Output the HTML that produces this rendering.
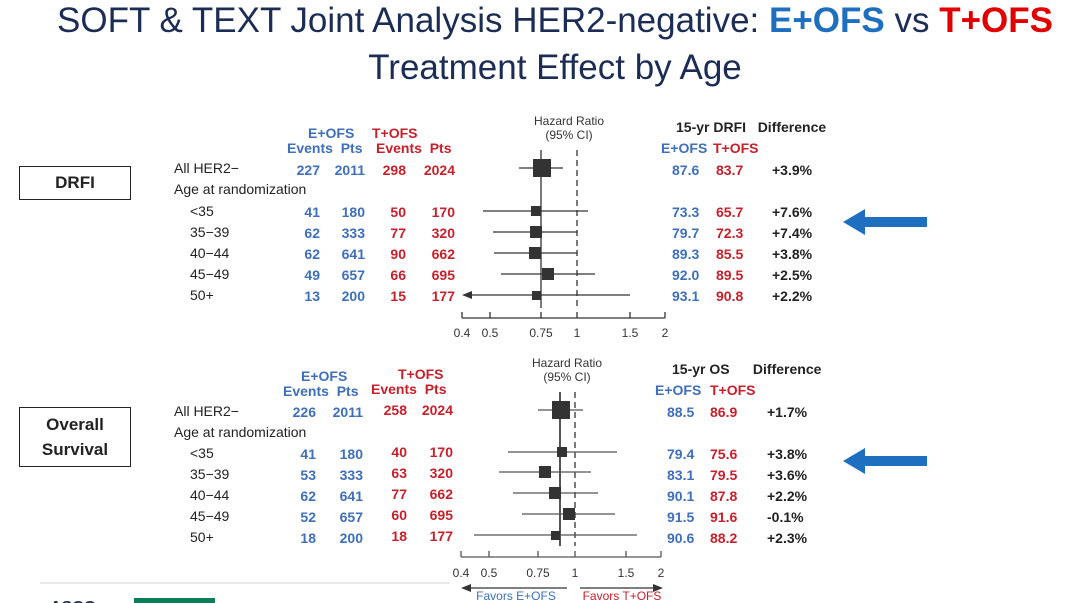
<!DOCTYPE html>
<html><head><meta charset="utf-8"><style>
body{margin:0;width:1080px;height:603px;background:#fff;position:relative;overflow:hidden;font-family:"Liberation Sans",sans-serif}
.t{position:absolute;white-space:nowrap}
.b{color:#3d6fba;font-weight:bold;font-size:14px}
.r{color:#c8202a;font-weight:bold;font-size:14px}
.k{color:#222;font-size:14px}
.kb{color:#222;font-size:14px;font-weight:bold}
.box{position:absolute;border:1.5px solid #222;font-weight:bold;font-size:17px;color:#222;text-align:center;box-sizing:border-box}
</style></head><body>
<div class="t" style="left:0;width:1110px;text-align:center;top:0;font-size:35px;color:#1c2d55;line-height:42px">SOFT &amp; TEXT Joint Analysis HER2-negative: <b style="color:#1f6fc0">E+OFS</b> vs <b style="color:#e00000">T+OFS</b></div>
<div class="t" style="left:0;width:1110px;text-align:center;top:47px;font-size:35px;color:#1c2d55;line-height:42px">Treatment Effect by Age</div>

<div class="box" style="left:19px;top:166px;width:112px;height:34px;line-height:31px">DRFI</div>
<div class="box" style="left:19px;top:407px;width:112px;height:60px;line-height:25px;padding-top:4px">Overall<br>Survival</div>

<div class="t b" style="left:308px;top:125px">E+OFS</div>
<div class="t r" style="left:372px;top:125px">T+OFS</div>
<div class="t b" style="left:287px;top:140px">Events&nbsp; Pts</div>
<div class="t r" style="left:376px;top:140px">Events&nbsp; Pts</div>
<div class="t kb" style="left:676px;top:119px">15-yr DRFI&nbsp;&nbsp; Difference</div>
<div class="t b" style="left:661px;top:140px">E+OFS</div><div class="t r" style="left:713px;top:140px">T+OFS</div>

<div class="t k" style="left:174px;top:160px">All HER2−</div>
<div class="t k" style="left:174px;top:181px">Age at randomization</div>
<div class="t k" style="left:190px;top:203px">&lt;35</div>
<div class="t k" style="left:190px;top:224px">35−39</div>
<div class="t k" style="left:190px;top:245px">40−44</div>
<div class="t k" style="left:190px;top:266px">45−49</div>
<div class="t k" style="left:190px;top:287px">50+</div>

<div class="t b" style="left:296px;top:160px;line-height:21px;text-align:right;width:24px">227<br><br>41<br>62<br>62<br>49<br>13</div>
<div class="t b" style="left:331px;top:160px;line-height:21px;text-align:right;width:34px">2011<br><br>180<br>333<br>641<br>657<br>200</div>
<div class="t r" style="left:381px;top:160px;line-height:21px;text-align:right;width:25px">298<br><br>50<br>77<br>90<br>66<br>15</div>
<div class="t r" style="left:420px;top:160px;line-height:21px;text-align:right;width:35px">2024<br><br>170<br>320<br>662<br>695<br>177</div>
<div class="t b" style="left:672px;top:160px;line-height:21px">87.6<br><br>73.3<br>79.7<br>89.3<br>92.0<br>93.1</div>
<div class="t r" style="left:716px;top:160px;line-height:21px">83.7<br><br>65.7<br>72.3<br>85.5<br>89.5<br>90.8</div>
<div class="t kb" style="left:772px;top:160px;line-height:21px">+3.9%<br><br>+7.6%<br>+7.4%<br>+3.8%<br>+2.5%<br>+2.2%</div>

<div class="t b" style="left:301px;top:368px">E+OFS</div>
<div class="t r" style="left:398px;top:366px">T+OFS</div>
<div class="t b" style="left:283px;top:383px">Events&nbsp; Pts</div>
<div class="t r" style="left:371px;top:381px">Events&nbsp; Pts</div>
<div class="t kb" style="left:672px;top:361px">15-yr OS&nbsp;&nbsp;&nbsp;&nbsp;&nbsp; Difference</div>
<div class="t b" style="left:655px;top:382px">E+OFS</div><div class="t r" style="left:710px;top:382px">T+OFS</div>

<div class="t k" style="left:174px;top:403px">All HER2−</div>
<div class="t k" style="left:174px;top:424px">Age at randomization</div>
<div class="t k" style="left:190px;top:445px">&lt;35</div>
<div class="t k" style="left:190px;top:466px">35−39</div>
<div class="t k" style="left:190px;top:487px">40−44</div>
<div class="t k" style="left:190px;top:508px">45−49</div>
<div class="t k" style="left:190px;top:529px">50+</div>

<div class="t b" style="left:292px;top:402px;line-height:21px;text-align:right;width:24px">226<br><br>41<br>53<br>62<br>52<br>18</div>
<div class="t b" style="left:329px;top:402px;line-height:21px;text-align:right;width:34px">2011<br><br>180<br>333<br>641<br>657<br>200</div>
<div class="t r" style="left:382px;top:400px;line-height:21px;text-align:right;width:25px">258<br><br>40<br>63<br>77<br>60<br>18</div>
<div class="t r" style="left:418px;top:400px;line-height:21px;text-align:right;width:35px">2024<br><br>170<br>320<br>662<br>695<br>177</div>
<div class="t b" style="left:667px;top:402px;line-height:21px">88.5<br><br>79.4<br>83.1<br>90.1<br>91.5<br>90.6</div>
<div class="t r" style="left:710px;top:402px;line-height:21px">86.9<br><br>75.6<br>79.5<br>87.8<br>91.6<br>88.2</div>
<div class="t kb" style="left:767px;top:402px;line-height:21px">+1.7%<br><br>+3.8%<br>+3.6%<br>+2.2%<br>-0.1%<br>+2.3%</div>

<svg width="1080" height="603" style="position:absolute;left:0;top:0" font-family="Liberation Sans, sans-serif">
<g fill="#333" font-size="12" text-anchor="middle">
<text x="569" y="125">Hazard Ratio</text><text x="569" y="139">(95% CI)</text>
<text x="567" y="367">Hazard Ratio</text><text x="567" y="381">(95% CI)</text>
<text x="462" y="337">0.4</text><text x="490" y="337">0.5</text><text x="541" y="337">0.75</text><text x="577" y="337">1</text><text x="630" y="337">1.5</text><text x="665" y="337">2</text>
<text x="461" y="577">0.4</text><text x="489" y="577">0.5</text><text x="538" y="577">0.75</text><text x="575" y="577">1</text><text x="626" y="577">1.5</text><text x="661" y="577">2</text>
</g>
<g stroke="#333" stroke-width="1.3" fill="none">
<path d="M462 318H665M462 318v-6M490 318v-6M541 318v-6M577 318v-6M630 318v-6M665 318v-6"/>
<path d="M541 150V308"/><path d="M577 150V308" stroke-dasharray="6,4"/>
<path d="M519 168H563M483 211H588M493 232H577M494 253H577M501 274H595M470 295H630"/>
<path d="M461 557H661M461 557v-6M489 557v-6M538 557v-6M575 557v-6M626 557v-6M661 557v-6" stroke="#555"/>
<path d="M560 392V546" stroke="#555" stroke-width="2"/><path d="M575 392V546" stroke-dasharray="6,4"/>
<path d="M538 410H583M508 452H617M499 472H591M513 493H598M522 514H615M474 535H637" stroke="#555"/>
<path d="M470 588H567M580 588H655" stroke="#333"/>
<path d="M40 583H450" stroke="#ddd"/>
</g>
<g fill="#333">
<path d="M462 295l10-4v8z"/>
<rect x="533" y="159" width="18" height="18"/>
<rect x="531" y="206" width="10" height="10"/><rect x="530" y="226" width="12" height="12"/><rect x="529" y="247" width="12" height="12"/><rect x="542" y="268" width="12" height="12"/><rect x="532" y="291" width="9" height="9"/>
<rect x="552" y="401" width="18" height="18"/>
<rect x="557" y="447" width="10" height="10"/><rect x="539" y="466" width="12" height="12"/><rect x="549" y="487" width="12" height="12"/><rect x="563" y="508" width="12" height="12"/><rect x="551" y="531" width="9" height="9"/>
<path d="M461 588l10-4v8zM663 588l-10-4v8z"/>
</g>
<text x="516" y="600" fill="#3d6fba" font-size="12" text-anchor="middle">Favors E+OFS</text>
<text x="622" y="600" fill="#c8202a" font-size="12" text-anchor="middle">Favors T+OFS</text>
<path d="M843 222l22-13v8h62v10h-62v8z" fill="#1f6fc0"/>
<path d="M843 461l22-13v8h62v10h-62v8z" fill="#1f6fc0"/>
<rect x="134" y="598" width="81" height="5" fill="#0a7f5a"/>
<text x="50" y="612" font-size="16" font-weight="bold" fill="#1c2d55">ASCO</text>
</svg>
</body></html>
